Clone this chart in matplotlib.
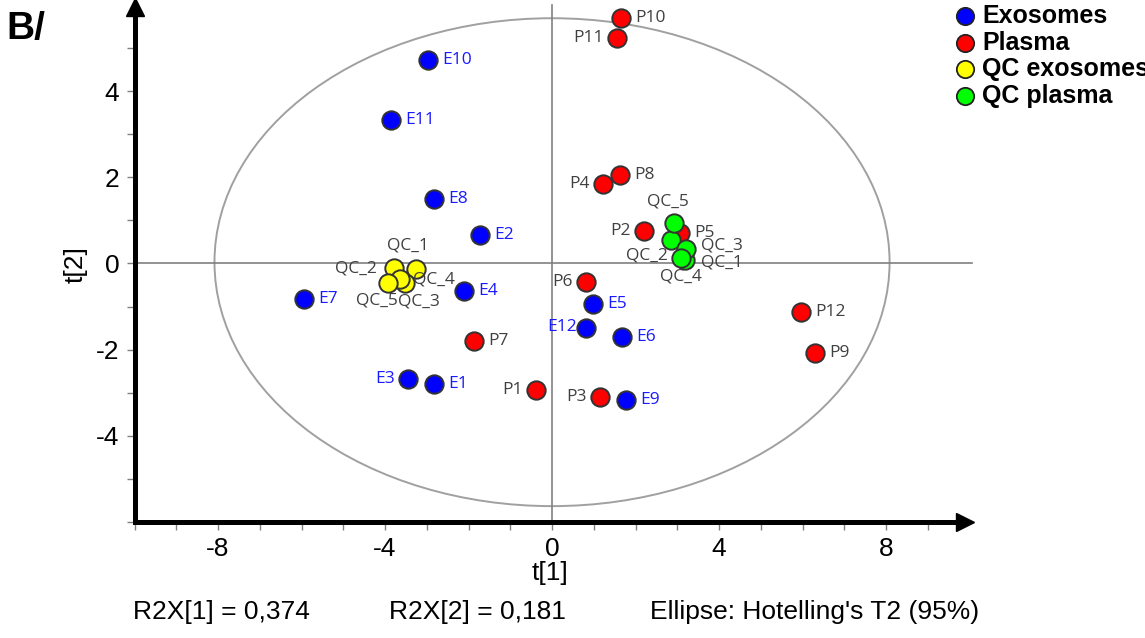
import numpy as np
import matplotlib.pyplot as plt
from matplotlib.patches import Ellipse

# score values t[1], t[2] per group
exo_names = ["E1", "E2", "E3", "E4", "E5", "E6", "E7", "E8", "E9", "E10", "E11", "E12"]
exo_t1 = [-2.83, -1.72, -3.45, -2.11, 0.98, 1.68, -5.94, -2.83, 1.77, -2.97, -3.86, 0.81]
exo_t2 = [-2.80, 0.66, -2.68, -0.64, -0.94, -1.71, -0.82, 1.50, -3.17, 4.72, 3.33, -1.50]

pla_names = ["P1", "P2", "P3", "P4", "P5", "P6", "P7", "P8", "P9", "P10", "P11", "P12"]
pla_t1 = [-0.38, 2.20, 1.15, 1.22, 3.07, 0.81, -1.87, 1.63, 6.30, 1.65, 1.56, 5.96]
pla_t2 = [-2.93, 0.75, -3.10, 1.84, 0.71, -0.43, -1.80, 2.05, -2.08, 5.70, 5.23, -1.13]

qce_names = ["QC_1", "QC_2", "QC_3", "QC_4", "QC_5"]
qce_t1 = [-3.26, -3.78, -3.52, -3.64, -3.94]
qce_t2 = [-0.13, -0.11, -0.45, -0.37, -0.45]

qcp_names = ["QC_1", "QC_2", "QC_3", "QC_4", "QC_5"]
qcp_t1 = [3.18, 2.85, 3.20, 3.10, 2.91]
qcp_t2 = [0.08, 0.55, 0.33, 0.12, 0.93]

legend_labels = ["Exosomes", "Plasma", "QC exosomes", "QC plasma"]
r2x = [0.374, 0.181]

# label placement (offset in pixels, horizontal alignment)
R, L = (14, 0, "left"), (-13, 0, "right")
exo_pos = {"E3": L, "E12": (-9, 1, "right")}
pla_pos = {"P1": L, "P2": L, "P3": L, "P4": L, "P6": L, "P11": L}
qce_pos = {"QC_1": (-8, 24, "center"), "QC_2": (-17, 0, "right"), "QC_3": (-7, -19, "left"),
           "QC_4": (13, 0, "left"), "QC_5": (10, -18, "right")}
qcp_pos = {"QC_5": (-6, 22, "center"), "QC_2": (-3, -16, "right"), "QC_3": (15, 4, "left"),
           "QC_1": (16, -2, "left"), "QC_4": (-1, -18, "center")}

plt.rcParams['font.family'] = ['Liberation Sans', 'DejaVu Sans']
lab_font = ['Open Sans', 'DejaVu Sans']

fig = plt.figure(figsize=(11.45, 6.38), dpi=100)
ax = fig.add_axes([0.1175, 0.1817, 0.7256, 0.8073])
ax.set_xlim(-10, 9.9)
ax.set_ylim(-6, 5.95)

# Hotelling T2 ellipse and zero lines
ax.add_patch(Ellipse((0, 0.03), 16.17, 11.32, fill=False, ec='#a0a0a0', lw=1.4, zorder=1))
ax.plot([-10, 10.05], [0, 0], color='#808080', lw=1.2, zorder=1, clip_on=False)
ax.plot([0, 0], [-6, 6.0], color='#808080', lw=1.2, zorder=1, clip_on=False)

groups = [
    (exo_names, exo_t1, exo_t2, '#0000ff', '#1a1aff', exo_pos),
    (pla_names, pla_t1, pla_t2, '#ff0000', '#404040', pla_pos),
    (qce_names, qce_t1, qce_t2, '#ffff00', '#404040', qce_pos),
    (qcp_names, qcp_t1, qcp_t2, '#00ff00', '#404040', qcp_pos),
]
for names, xs, ys, col, tcol, pos in groups:
    ax.scatter(xs, ys, s=175, c=col, edgecolors='#333333', linewidths=1.4, zorder=3)
    for n, x, y in zip(names, xs, ys):
        dx, dy, ha = pos.get(n, R)
        ax.annotate(n, (x, y), xytext=(dx, dy), textcoords='offset pixels',
                    ha=ha, va='center', fontsize=12.5, color=tcol, family=lab_font, zorder=4)

# axes with arrow heads
for s in ['top', 'right']:
    ax.spines[s].set_visible(False)
for s in ['left', 'bottom']:
    ax.spines[s].set_linewidth(3.6)
    ax.spines[s].set_color('black')
ax.plot(1, 0, '>', color='black', ms=13, transform=ax.transAxes, clip_on=False)
ax.plot(0, 1, '^', color='black', ms=13, transform=ax.transAxes, clip_on=False)

xt = np.arange(-10, 10)
ax.set_xticks(xt)
ax.set_xticklabels([str(v) if v in (-8, -4, 0, 4, 8) else '' for v in xt])
yt = np.arange(-6, 6)
ax.set_yticks(yt)
ax.set_yticklabels([str(v) if v in (-4, -2, 0, 2, 4) else '' for v in yt])
ax.tick_params(direction='out', length=6, width=1, color='#808080', labelsize=19, pad=5)

ax.set_xlabel('t[1]', fontsize=19, labelpad=0)
ax.set_ylabel('t[2]', fontsize=19, labelpad=6)

fig.text(0.116, 0.04, 'R2X[1] = ' + f'{r2x[0]:.3f}'.replace('.', ','), fontsize=19, va='center')
fig.text(0.340, 0.04, 'R2X[2] = ' + f'{r2x[1]:.3f}'.replace('.', ','), fontsize=19, va='center')
fig.text(0.568, 0.04, "Ellipse: Hotelling's T2 (95%)", fontsize=19, va='center')

fig.text(0.006, 0.955, 'B/', fontsize=28, fontweight='bold', va='center')

# legend
cols = ['#0000ff', '#ff0000', '#ffff00', '#00ff00']
for i, (lab, c) in enumerate(zip(legend_labels, cols)):
    yy = 1 - (16 + 26.7 * i) / 638
    fig.lines.append(plt.Line2D([965 / 1145], [yy], marker='o', ms=12.5, mfc=c, mec='#222222',
                                mew=1.3, transform=fig.transFigure, figure=fig))
    fig.text(982 / 1145, yy, lab, fontsize=18, fontweight='bold', va='center')

fig.savefig('out.png', dpi=100)
